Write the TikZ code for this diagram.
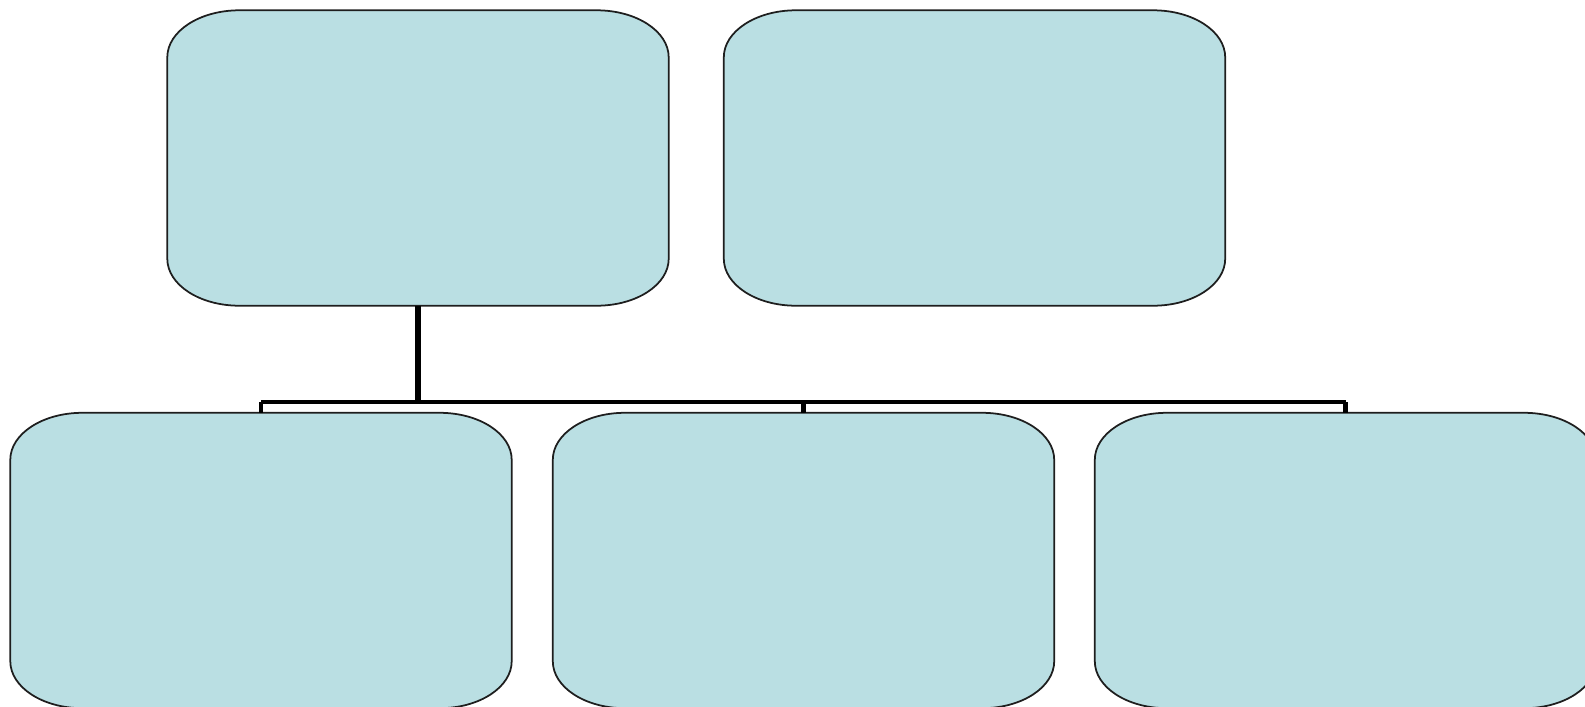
\documentclass[tikz,border=0pt]{standalone}

\definecolor{cellfill}{RGB}{186,223,227}
\definecolor{cellline}{RGB}{30,30,30}

\tikzset{
	cell/.style={rectangle, minimum width=5cm, minimum height=2.94cm, inner sep=0pt},
	cellshape/.style={fill=cellfill, draw=cellline, line width=0.5pt},
	corner/.style={x radius=7.2mm, y radius=4.7mm},
	trunk/.style={line width=1.6pt, black},
	bus/.style={line width=1.1pt, black},
	drop/.style={line width=1.4pt, black}
}

\begin{document}
\begin{tikzpicture}
	\useasboundingbox (0,0) rectangle (15.85,7.06);
	\clip (0,0) rectangle (15.85,7.06);
	% top row
	\node[cell] (lead) at (4.18,5.48) {};
	\node[cell] (aside) at (9.745,5.48) {};
	% bottom row
	\node[cell] (left) at (2.61,1.455) {};
	\node[cell] (middle) at (8.035,1.455) {};
	\node[cell] (right) at (13.455,1.455) {};
	\coordinate (hub) at (4.18,3.043);
	% rounded outlines
	\foreach \n in {lead,aside,left,middle,right}
		\draw[cellshape] ([xshift=7.2mm]\n.north west) -- ([xshift=-7.2mm]\n.north east)
			arc[corner, start angle=90, end angle=0] -- ([yshift=4.7mm]\n.south east)
			arc[corner, start angle=0, end angle=-90] -- ([xshift=7.2mm]\n.south west)
			arc[corner, start angle=270, end angle=180] -- ([yshift=-4.7mm]\n.north west)
			arc[corner, start angle=180, end angle=90] -- cycle;
	% connectors
	\draw[trunk] (lead.south) -- (lead.south |- hub);
	\draw[bus] (left.north |- hub) -- (right.north |- hub);
	\draw[drop] (left.north) -- (left.north |- hub);
	\draw[drop] (middle.north) -- (middle.north |- hub);
	\draw[drop] (right.north) -- (right.north |- hub);
\end{tikzpicture}
\end{document}
